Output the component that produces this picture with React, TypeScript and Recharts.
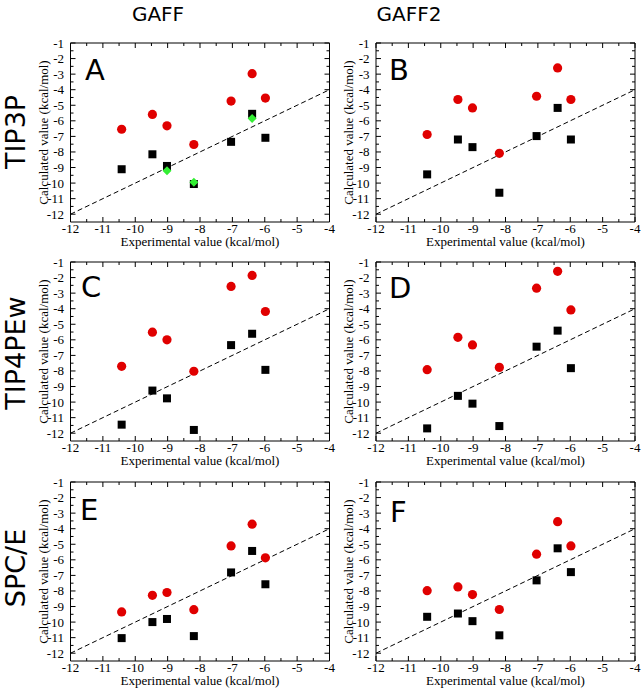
import React from 'react';
import { ScatterChart, Scatter, XAxis, YAxis, ReferenceArea } from 'recharts';

// Experimental values (x) shared by all panels
const expX = [-10.42, -9.47, -9.02, -8.19, -7.04, -6.39, -5.98];

// Panel A: GAFF / TIP3P
const aRed = [-6.54, -5.59, -6.32, -7.52, -4.73, -2.97, -4.54];
const aBlack = [-9.11, -8.15, -8.9, -10.06, -7.35, -5.55, -7.09];
const aGreenX = [-9.02, -8.19, -6.39];
const aGreenY = [-9.2, -9.95, -5.85];
// Panel B: GAFF2 / TIP3P
const bRed = [-6.88, -4.63, -5.17, -8.09, -4.42, -2.6, -4.63];
const bBlack = [-9.44, -7.2, -7.69, -10.62, -6.98, -5.17, -7.2];
// Panel C: GAFF / TIP4PEw
const cRed = [-7.7, -5.51, -6.0, -8.02, -2.57, -1.86, -4.18];
const cBlack = [-11.45, -9.26, -9.76, -11.79, -6.34, -5.61, -7.93];
// Panel D: GAFF2 / TIP4PEw
const dRed = [-7.92, -5.84, -6.33, -7.77, -2.68, -1.6, -4.08];
const dBlack = [-11.69, -9.6, -10.1, -11.54, -6.44, -5.41, -7.82];
// Panel E: GAFF / SPC/E
const eRed = [-9.35, -8.28, -8.1, -9.2, -5.11, -3.71, -5.87];
const eBlack = [-11.03, -10.0, -9.8, -10.9, -6.81, -5.43, -7.57];
// Panel F: GAFF2 / SPC/E
const fRed = [-7.98, -7.74, -8.23, -9.19, -5.64, -3.55, -5.11];
const fBlack = [-9.66, -9.45, -9.94, -10.85, -7.32, -5.26, -6.79];

// identity line
const diagX = [-12, -4];
const diagY = [-12, -4];

const xDomain = [-12, -4];
const yDomain = [-12.5, -1];
const xTickVals = [-12, -11.5, -11, -10.5, -10, -9.5, -9, -8.5, -8, -7.5, -7, -6.5, -6, -5.5, -5, -4.5, -4];
const yTickVals = [-12, -11.5, -11, -10.5, -10, -9.5, -9, -8.5, -8, -7.5, -7, -6.5, -6, -5.5, -5, -4.5, -4, -3.5, -3, -2.5, -2, -1.5, -1];

const colHeaders = ['GAFF', 'GAFF2'];
const rowHeaders = ['TIP3P', 'TIP4PEw', 'SPC/E'];
const panelLetters = ['A', 'B', 'C', 'D', 'E', 'F'];
const xTitle = 'Experimental value (kcal/mol)';
const yTitle = 'Calculated value (kcal/mol)';

const SERIF = "'Liberation Serif','Times New Roman',serif";
const SANS = "'DejaVu Sans','Liberation Sans',sans-serif";
const XM = 11;
const YM = 6;
const isMajor = (v: number) => Number.isInteger(v);

const zip = (xs: number[], ys: number[]) => xs.map((x, i) => ({ x, y: ys[i] }));

const BottomTick = (p: any) => {
  const v = p.payload.value;
  const ay = p.y - XM;
  const len = isMajor(v) ? 5 : 3;
  return (
    <g>
      <line x1={p.x} x2={p.x} y1={ay} y2={ay - len} stroke="#000" />
      {isMajor(v) && (
        <text x={p.x} y={p.y} textAnchor="middle" fontFamily={SERIF} fontSize={13} fill="#000">{v}</text>
      )}
    </g>
  );
};
const LeftTick = (p: any) => {
  const v = p.payload.value;
  const ax = p.x + YM;
  const len = isMajor(v) ? 5 : 3;
  return (
    <g>
      <line x1={ax} x2={ax + len} y1={p.y} y2={p.y} stroke="#000" />
      {isMajor(v) && (
        <text x={p.x - 0.5} y={p.y + 4.5} textAnchor="end" fontFamily={SERIF} fontSize={13} fill="#000">{v}</text>
      )}
    </g>
  );
};
const TopTick = (p: any) => {
  const v = p.payload.value;
  const len = isMajor(v) ? 5 : 3;
  return <line x1={p.x} x2={p.x} y1={p.y} y2={p.y + len} stroke="#000" />;
};
const RightTick = (p: any) => {
  const v = p.payload.value;
  const len = isMajor(v) ? 5 : 3;
  return <line x1={p.x} x2={p.x - len} y1={p.y} y2={p.y} stroke="#000" />;
};

const RedDot = (p: any) => <circle cx={p.cx} cy={p.cy} r={4.6} fill="#e00000" />;
const BlackSq = (p: any) => <rect x={p.cx - 4} y={p.cy - 4} width={8} height={8} fill="#000" />;
const GreenDia = (p: any) => (
  <polygon points={`${p.cx},${p.cy - 4.5} ${p.cx + 4.5},${p.cy} ${p.cx},${p.cy + 4.5} ${p.cx - 4.5},${p.cy}`} fill="#33ee33" />
);
const Nothing = () => <g />;

type PanelProps = { left: number; top: number; col: number; red: number[]; black: number[]; green?: { x: number; y: number }[] };

function Panel({ left, top, col, red, black, green }: PanelProps) {
  const ml = col === 0 ? 16.5 : 0;
  const yw = col === 0 ? 54 : 56;
  const w = ml + yw + 259 + 6;
  return (
    <div style={{ position: 'absolute', left, top }}>
      <ScatterChart width={w} height={221} margin={{ top: 9, right: 5, left: ml, bottom: 6 }}>
        <XAxis xAxisId="b" type="number" dataKey="x" domain={xDomain} allowDataOverflow ticks={xTickVals} interval={0}
          stroke="#000" tickSize={0} tickMargin={XM} tickLine={false} tick={(p: any) => <BottomTick {...p} />} axisLine={false} height={26}
          label={{ value: xTitle, position: 'insideBottom', offset: 2, fontFamily: SERIF, fontSize: 13, fill: '#000' }} />
        <XAxis xAxisId="t" orientation="top" type="number" dataKey="x" domain={xDomain} allowDataOverflow ticks={xTickVals} interval={0}
          stroke="#000" tickSize={0} tickMargin={0} tickLine={false} tick={(p: any) => <TopTick {...p} />} axisLine={false} height={1} />
        <YAxis yAxisId="l" type="number" dataKey="y" domain={yDomain} allowDataOverflow ticks={yTickVals} interval={0}
          stroke="#000" tickSize={0} tickMargin={YM} tickLine={false} tick={(p: any) => <LeftTick {...p} />} axisLine={false} width={yw}
          label={{ value: yTitle, angle: -90, position: 'center', fontFamily: SERIF, fontSize: 13, fill: '#000' }} />
        <YAxis yAxisId="r" orientation="right" type="number" dataKey="y" domain={yDomain} allowDataOverflow ticks={yTickVals} interval={0}
          stroke="#000" tickSize={0} tickMargin={0} tickLine={false} tick={(p: any) => <RightTick {...p} />} axisLine={false} width={1} />
        <ReferenceArea xAxisId="b" yAxisId="l" x1={xDomain[0]} x2={xDomain[1]} y1={yDomain[0]} y2={yDomain[1]}
          fill="none" fillOpacity={0} stroke="#000" strokeWidth={1} strokeOpacity={1} ifOverflow="visible" />
        <Scatter xAxisId="t" yAxisId="r" data={zip(diagX, diagY)} shape={Nothing} stroke="#000" isAnimationActive={false}
          line={{ stroke: '#000', strokeWidth: 1, strokeDasharray: '5 3' }} />
        <Scatter xAxisId="b" yAxisId="l" data={zip(expX, red)} shape={RedDot} isAnimationActive={false} />
        <Scatter xAxisId="b" yAxisId="l" data={zip(expX, black)} shape={BlackSq} isAnimationActive={false} />
        {green && <Scatter xAxisId="b" yAxisId="l" data={green} shape={GreenDia} isAnimationActive={false} />}
      </ScatterChart>
    </div>
  );
}

export default function App() {
  const rowTops = [32.5, 251.5, 472];
  const colLefts = [0, 319.5];
  const letterPos = [[85, 80], [389, 80], [81, 297], [389, 298], [80, 520], [390, 522]];
  const rowCenters = [132, 353, 568];
  return (
    <div style={{ position: 'absolute', left: 0, top: 0, width: 641, height: 691, background: '#fff', overflow: 'hidden' }}>
      <Panel left={colLefts[0]} top={rowTops[0]} col={0} red={aRed} black={aBlack} green={zip(aGreenX, aGreenY)} />
      <Panel left={colLefts[1]} top={rowTops[0]} col={1} red={bRed} black={bBlack} />
      <Panel left={colLefts[0]} top={rowTops[1]} col={0} red={cRed} black={cBlack} />
      <Panel left={colLefts[1]} top={rowTops[1]} col={1} red={dRed} black={dBlack} />
      <Panel left={colLefts[0]} top={rowTops[2]} col={0} red={eRed} black={eBlack} />
      <Panel left={colLefts[1]} top={rowTops[2]} col={1} red={fRed} black={fBlack} />
      <svg width={641} height={691} style={{ position: 'absolute', left: 0, top: 0, pointerEvents: 'none' }}>
        <text x={158} y={21} textAnchor="middle" fontFamily={SANS} fontSize={20} fill="#000">{colHeaders[0]}</text>
        <text x={409} y={21} textAnchor="middle" fontFamily={SANS} fontSize={20} fill="#000">{colHeaders[1]}</text>
        {rowHeaders.map((r, i) => (
          <text key={r} x={25} y={rowCenters[i]} transform={`rotate(-90 25 ${rowCenters[i]})`} textAnchor="middle"
            fontFamily={SANS} fontSize={27} fill="#000">{r}</text>
        ))}
        {panelLetters.map((l, i) => (
          <text key={l} x={letterPos[i][0]} y={letterPos[i][1]} fontFamily={SANS} fontSize={29} fill="#000">{l}</text>
        ))}
      </svg>
    </div>
  );
}
